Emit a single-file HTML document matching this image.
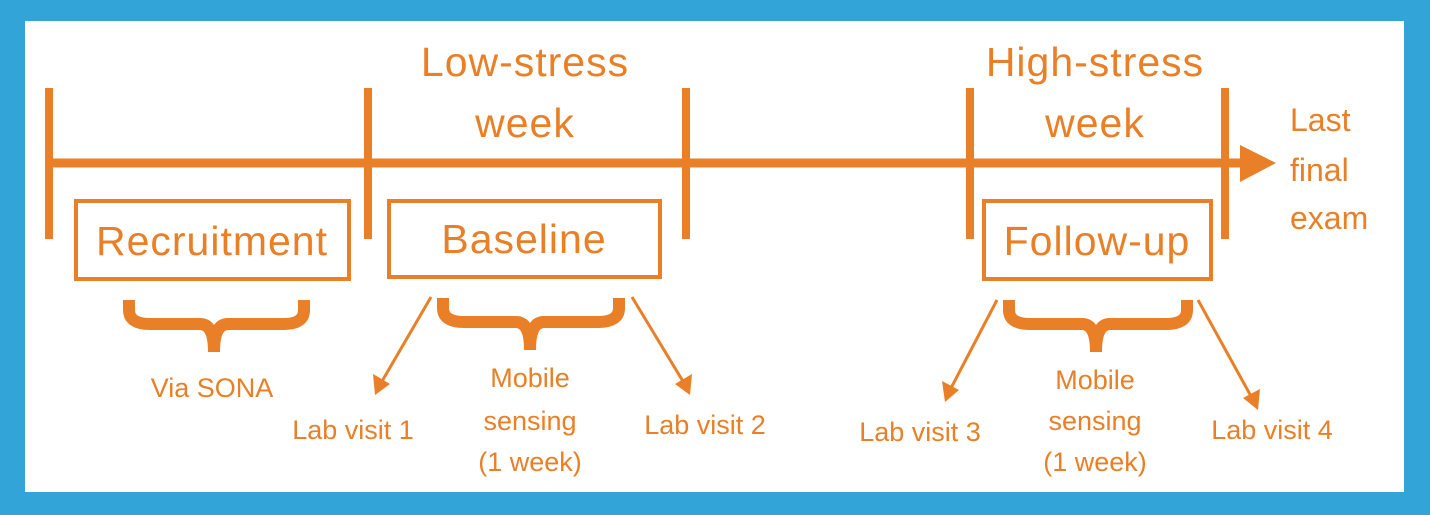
<!DOCTYPE html>
<html><head><style>
body{margin:0;background:#33a4d8;}
svg{display:block}
text{font-family:"Liberation Sans",sans-serif;fill:#e97f26;text-anchor:middle}
</style></head><body>
<svg width="1430" height="515" viewBox="0 0 1430 515">
<rect x="0" y="0" width="1430" height="515" fill="#33a4d8"/>
<rect x="25" y="21" width="1379" height="471" fill="#fff"/>
<g stroke="#e97f26" fill="none">
<line x1="48" y1="163" x2="1248" y2="163" stroke-width="9"/>
<line x1="49" y1="88" x2="49" y2="239" stroke-width="8"/>
<line x1="368" y1="88" x2="368" y2="239" stroke-width="8"/>
<line x1="686" y1="88" x2="686" y2="239" stroke-width="8"/>
<line x1="970" y1="88" x2="970" y2="239" stroke-width="8"/>
<line x1="1225" y1="88" x2="1225" y2="239" stroke-width="8"/>
<rect x="76" y="201" width="273" height="78" stroke-width="4"/>
<rect x="389" y="201" width="271" height="76" stroke-width="4"/>
<rect x="984" y="201" width="227" height="78" stroke-width="4"/>
<path d="M129,300 L129,310 Q129,324 150,324 L200,324 Q214,324 214,352 Q214,324 228,324 L284,324 Q304,324 304,310 L304,300" stroke-width="12"/>
<path d="M443,298 L443,308 Q443,322 464,322 L516,322 Q530,322 530,350 Q530,322 544,322 L598,322 Q619,322 619,308 L619,298" stroke-width="12"/>
<path d="M1009,300 L1009,310 Q1009,324 1030,324 L1082,324 Q1096,324 1096,352 Q1096,324 1110,324 L1166,324 Q1187,324 1187,310 L1187,300" stroke-width="12"/>
<g stroke-width="3">
<line x1="431" y1="297" x2="381" y2="383"/>
<line x1="632" y1="297" x2="684" y2="383"/>
<line x1="997" y1="300" x2="950" y2="390"/>
<line x1="1198" y1="300" x2="1252" y2="398"/>
</g>
</g>
<g fill="#e97f26">
<polygon points="1240,145 1276,163 1240,182"/>
<polygon points="375,395 373,374 390,384"/>
<polygon points="690,395 675,384 692,374"/>
<polygon points="945,402 942,381 959,390"/>
<polygon points="1258,410 1243,398 1260,389"/>
</g>
<g font-size="41" letter-spacing="1">
<text x="525" y="76">Low-stress</text>
<text x="525" y="137">week</text>
<text x="1095" y="76">High-stress</text>
<text x="1095" y="137">week</text>
<text x="212" y="255">Recruitment</text>
<text x="524" y="253">Baseline</text>
<text x="1097" y="255">Follow-up</text>
</g>
<g font-size="32">
<text x="1290" y="131" style="text-anchor:start">Last</text>
<text x="1290" y="181" style="text-anchor:start">final</text>
<text x="1290" y="229" style="text-anchor:start">exam</text>
</g>
<g font-size="27">
<text x="212" y="397">Via SONA</text>
<text x="353" y="439">Lab visit 1</text>
<text x="530" y="387">Mobile</text>
<text x="530" y="430">sensing</text>
<text x="530" y="471">(1 week)</text>
<text x="705" y="434">Lab visit 2</text>
<text x="920" y="441">Lab visit 3</text>
<text x="1095" y="389">Mobile</text>
<text x="1095" y="430">sensing</text>
<text x="1095" y="471">(1 week)</text>
<text x="1272" y="439">Lab visit 4</text>
</g>
</svg>
</body></html>
